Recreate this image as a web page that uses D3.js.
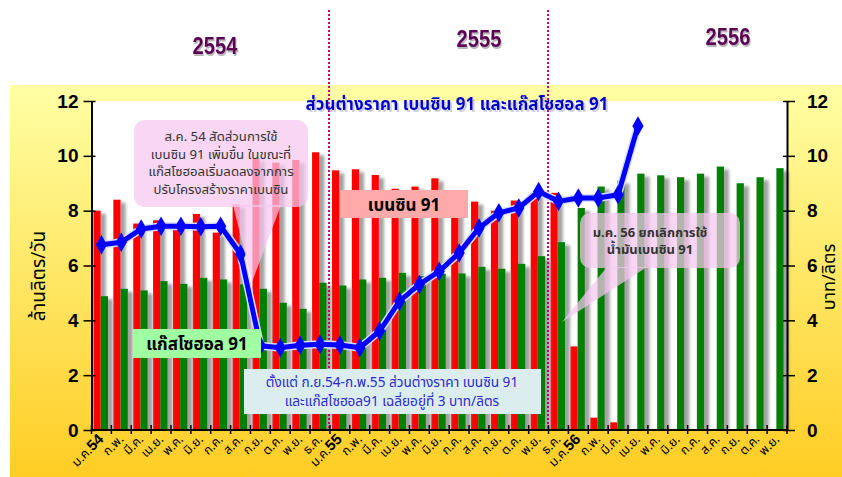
<!DOCTYPE html>
<html>
<head>
<meta charset="utf-8">
<script src="https://cdn.jsdelivr.net/npm/d3@7"></script>
<style>
    html, body { margin: 0; padding: 0; background: #fff; }
    svg { display: block; font-family: Tahoma, 'Noto Sans Thai', 'DejaVu Sans', sans-serif; }
</style>
</head>
<body>
<svg id="chart" width="842" height="477"></svg>
<script>
// monthly labels ม.ค.54 .. พ.ย.56
var monthLabels = ['ม.ค.54', 'ก.พ.', 'มี.ค.', 'เม.ย.', 'พ.ค.', 'มิ.ย.', 'ก.ค.', 'ส.ค.', 'ก.ย.', 'ต.ค.', 'พ.ย.', 'ธ.ค.',
    'ม.ค.55', 'ก.พ.', 'มี.ค.', 'เม.ย.', 'พ.ค.', 'มิ.ย.', 'ก.ค.', 'ส.ค.', 'ก.ย.', 'ต.ค.', 'พ.ย.', 'ธ.ค.',
    'ม.ค.56', 'ก.พ.', 'มี.ค.', 'เม.ย.', 'พ.ค.', 'มิ.ย.', 'ก.ค.', 'ส.ค.', 'ก.ย.', 'ต.ค.', 'พ.ย.'];

// ล้านลิตร/วัน
var benzin91 = [8.0, 8.4, 7.53, 7.65, 7.5, 7.88, 7.2, 8.22, 9.9, 9.75, 9.85, 10.13,
    9.47, 9.51, 9.3, 8.8, 8.88, 9.18, 8.7, 8.33, 8.0, 8.37, 8.65, 8.65,
    3.05, 0.45, 0.28, null, null, null, null, null, null, null, null];
var gasohol91 = [4.88, 5.15, 5.09, 5.43, 5.33, 5.55, 5.49, 5.31, 5.15, 4.64, 4.42, 5.37,
    5.27, 5.49, 5.55, 5.73, 5.61, 5.7, 5.71, 5.95, 5.88, 6.06, 6.34, 6.85,
    8.1, 8.88, 9.1, 9.35, 9.29, 9.22, 9.35, 9.61, 9.0, 9.22, 9.55];

// บาท/ลิตร
var priceGap = [6.76, 6.85, 7.33, 7.43, 7.43, 7.41, 7.43, 6.42, 3.07, 3.0, 3.09, 3.13,
    3.1, 3.0, 3.61, 4.7, 5.31, 5.79, 6.46, 7.37, 7.92, 8.1, 8.7, 8.34,
    8.46, 8.46, 8.58, 11.09];

var yTicks = [0, 2, 4, 6, 8, 10, 12];
var yearLabels = ['2554', '2555', '2556'];

(function (d3) {
    'use strict';

    var svg = d3.select('#chart'),
        defs = svg.append('defs'),
        left = 91.5,
        right = 787,
        top = 101,
        bottom = 430,
        x = d3.scaleBand().domain(d3.range(monthLabels.length)).range([left, right]).padding(0),
        bw = x.bandwidth(),
        sub = d3.scaleBand().domain(['benzin', 'gasohol']).range([bw * 0.1, bw * 0.83]).padding(0),
        y = d3.scaleLinear().domain([0, 12]).range([bottom, top]),
        grad,
        barG,
        axisL,
        axisR,
        xAxisG,
        line;

    function dropShadow(id, dx, dy, blur, color, opacity) {
        var f = defs.append('filter').attr('id', id)
                .attr('x', '-50%').attr('y', '-20%').attr('width', '250%').attr('height', '150%'),
            m;
        f.append('feGaussianBlur').attr('in', 'SourceAlpha').attr('stdDeviation', blur);
        f.append('feOffset').attr('dx', dx).attr('dy', dy).attr('result', 'ob');
        f.append('feFlood').attr('flood-color', color).attr('flood-opacity', opacity);
        f.append('feComposite').attr('in2', 'ob').attr('operator', 'in');
        m = f.append('feMerge');
        m.append('feMergeNode');
        m.append('feMergeNode').attr('in', 'SourceGraphic');
    }

    grad = defs.append('linearGradient').attr('id', 'panelGrad')
        .attr('x1', 0).attr('y1', 0).attr('x2', 0).attr('y2', 1);
    grad.append('stop').attr('offset', '0%').attr('stop-color', '#ffffa4');
    grad.append('stop').attr('offset', '100%').attr('stop-color', '#ffcd24');

    dropShadow('barShadow', 5, 3, 1.8, '#8a8a8a', 0.8);
    dropShadow('yearShadow', 1.5, 2, 0.6, '#6a5a68', 0.45);
    dropShadow('titleShadow', 1.5, 1.5, 0.5, '#8888aa', 0.4);

    defs.append('clipPath').attr('id', 'plotClip')
        .append('rect').attr('x', left).attr('y', top).attr('width', right - left + 8).attr('height', bottom - top);

    // background panel + plot area
    svg.append('rect').attr('x', 10).attr('y', 85).attr('width', 832).attr('height', 392).attr('fill', 'url(#panelGrad)');
    svg.append('rect').attr('x', left).attr('y', top).attr('width', right - left).attr('height', bottom - top).attr('fill', '#fff');

    // bars
    barG = svg.append('g').attr('clip-path', 'url(#plotClip)');
    barG.selectAll('rect.benzin')
        .data(benzin91.map(function (v, i) { return {i: i, v: v}; }).filter(function (d) { return d.v !== null; }))
        .join('rect')
        .attr('class', 'benzin')
        .attr('x', function (d) { return x(d.i) + sub('benzin'); })
        .attr('width', sub.bandwidth())
        .attr('y', function (d) { return y(d.v); })
        .attr('height', function (d) { return y(0) - y(d.v); })
        .attr('fill', '#ff0000')
        .attr('filter', 'url(#barShadow)');
    barG.selectAll('rect.gasohol')
        .data(gasohol91.map(function (v, i) { return {i: i, v: v}; }))
        .join('rect')
        .attr('class', 'gasohol')
        .attr('x', function (d) { return x(d.i) + sub('gasohol'); })
        .attr('width', sub.bandwidth())
        .attr('y', function (d) { return y(d.v); })
        .attr('height', function (d) { return y(0) - y(d.v); })
        .attr('fill', '#008000')
        .attr('filter', 'url(#barShadow)');

    // year dividers
    [x(12) - 1, x(23) - 0.5].forEach(function (px) {
        svg.append('line').attr('x1', px).attr('x2', px).attr('y1', 10).attr('y2', bottom)
            .attr('stroke', '#c8006a').attr('stroke-width', 2).attr('stroke-dasharray', '2,2');
    });

    // year labels
    [[215, 54], [479, 47], [728, 45]].forEach(function (p, k) {
        svg.append('text')
            .attr('transform', 'translate(' + p[0] + ',' + p[1] + ') scale(0.84,1)')
            .attr('text-anchor', 'middle')
            .attr('font-family', "'Liberation Sans', Arial, sans-serif")
            .attr('font-weight', 'bold').attr('font-size', 24).attr('fill', '#5c0057')
            .attr('filter', 'url(#yearShadow)')
            .text(yearLabels[k]);
    });

    // axes
    axisL = svg.append('g').attr('transform', 'translate(' + left + ',0)')
        .call(d3.axisLeft(y).tickValues(yTicks).tickSize(8).tickSizeOuter(0).tickPadding(5));
    axisR = svg.append('g').attr('transform', 'translate(' + right + ',0)')
        .call(d3.axisRight(y).tickValues(yTicks).tickSize(8).tickSizeOuter(0).tickPadding(12));
    [axisL, axisR].forEach(function (g) {
        g.select('.domain').attr('stroke', '#000').attr('stroke-width', 2);
        g.selectAll('.tick line').attr('stroke', '#000').attr('stroke-width', 1.5);
        g.selectAll('.tick text').attr('font-family', "'Liberation Sans', Arial, sans-serif")
            .attr('font-weight', 'bold').attr('font-size', 19).attr('fill', '#000');
    });
    axisL.selectAll('.tick line').attr('x1', 4);
    axisR.selectAll('.tick line').attr('x1', -4);

    xAxisG = svg.append('g');
    xAxisG.append('line').attr('x1', left).attr('x2', right).attr('y1', bottom).attr('y2', bottom)
        .attr('stroke', '#000').attr('stroke-width', 2);
    xAxisG.selectAll('line.tk')
        .data(d3.range(monthLabels.length + 1))
        .join('line')
        .attr('class', 'tk')
        .attr('x1', function (i) { return left + i * x.step(); })
        .attr('x2', function (i) { return left + i * x.step(); })
        .attr('y1', bottom - 5).attr('y2', bottom + 4)
        .attr('stroke', '#000').attr('stroke-width', 1.5);
    xAxisG.selectAll('text.lbl')
        .data(monthLabels)
        .join('text')
        .attr('class', 'lbl')
        .attr('text-anchor', 'end')
        .attr('font-size', 12.5)
        .attr('fill', '#000')
        .attr('transform', function (d, i) {
            return 'translate(' + (x(i) + bw / 2 + 3) + ',' + (bottom + 10) + ') rotate(-45)';
        })
        .each(function (d) {
            var m = d.match(/^(.*?)(\d+)$/),
                t = d3.select(this);
            if (m) {
                t.append('tspan').text(m[1]);
                t.append('tspan').attr('font-size', 15).attr('font-weight', 'bold')
                    .attr('font-family', "'Liberation Sans', Arial, sans-serif").text(m[2]);
            } else {
                t.text(d);
            }
        });

    // axis titles
    svg.append('text').attr('transform', 'translate(45,276) rotate(-90)').attr('text-anchor', 'middle')
        .attr('font-size', 19).attr('fill', '#000').text('ล้านลิตร/วัน');
    svg.append('text').attr('transform', 'translate(835,277) rotate(-90)').attr('text-anchor', 'middle')
        .attr('font-size', 18).attr('fill', '#000').text('บาท/ลิตร');

    // chart title
    svg.append('text').attr('x', 457).attr('y', 110).attr('text-anchor', 'middle')
        .attr('font-size', 17).attr('font-weight', 'bold').attr('fill', '#0000cc')
        .attr('filter', 'url(#titleShadow)')
        .text('ส่วนต่างราคา เบนซิน 91 และแก๊สโซฮอล 91');

    // price gap line
    line = d3.line()
        .x(function (d, i) { return x(i) + bw / 2; })
        .y(function (d) { return y(d); });
    svg.append('path').datum(priceGap).attr('d', line)
        .attr('fill', 'none').attr('stroke', '#d8ddff').attr('stroke-width', 8).attr('stroke-linejoin', 'round');
    svg.append('path').datum(priceGap).attr('d', line)
        .attr('fill', 'none').attr('stroke', '#0000ff').attr('stroke-width', 5).attr('stroke-linejoin', 'round');
    svg.selectAll('path.mark')
        .data(priceGap)
        .join('path')
        .attr('class', 'mark')
        .attr('transform', function (d, i) { return 'translate(' + (x(i) + bw / 2) + ',' + y(d) + ')'; })
        .attr('d', d3.symbol().type(d3.symbolDiamond).size(110))
        .attr('fill', '#0000ff');

    // annotations
    function noteBox(bx, by, w, h, fill, opacity, rx) {
        svg.append('rect').attr('x', bx).attr('y', by).attr('width', w).attr('height', h)
            .attr('rx', rx).attr('fill', fill).attr('fill-opacity', opacity);
    }
    // one text element per note, one tspan per line
    function noteLines(cx, by, step, lines, size, weight, color) {
        var t = svg.append('text').attr('x', cx).attr('y', by).attr('text-anchor', 'middle')
            .attr('font-size', size).attr('font-weight', weight).attr('fill', color);
        lines.forEach(function (s, k) {
            t.append('tspan').attr('x', cx).attr('dy', k === 0 ? 0 : step).text(s);
        });
    }

    svg.append('path').attr('d', 'M233,205 L281,205 L252,282 Z').attr('fill', '#f7c8f0').attr('fill-opacity', 0.72);
    noteBox(134, 120, 174, 87, '#f7c8f0', 0.72, 11);
    noteLines(221, 141, 17.6, ['ส.ค. 54 สัดส่วนการใช้', 'เบนซิน 91 เพิ่มขึ้น ในขณะที่',
        'แก๊สโซฮอลเริ่มลดลงจากการ', 'ปรับโครงสร้างราคาเบนซิน'], 13.2, 'normal', '#333');

    svg.append('path').attr('d', 'M607,267 L647,267 L562,322 Z').attr('fill', '#f7c8f0').attr('fill-opacity', 0.72);
    noteBox(580, 213, 160, 55, '#f7c8f0', 0.72, 10);
    noteLines(650, 237, 16.5, ['ม.ค. 56 ยกเลิกการใช้', 'น้ำมันเบนซิน 91'], 13, 'bold', '#333');

    noteBox(340, 190, 128, 28, '#ffaaaa', 1, 0);
    noteLines(404, 211, 0, ['เบนซิน 91'], 17, 'bold', '#000');

    noteBox(133, 329, 128, 29, '#a0ffa0', 1, 0);
    noteLines(197, 350, 0, ['แก๊สโซฮอล 91'], 17, 'bold', '#000');

    noteBox(244, 369, 297, 45, '#dcedf0', 1, 0);
    noteLines(392, 387, 18.5, ['ตั้งแต่ ก.ย.54-ก.พ.55 ส่วนต่างราคา เบนซิน 91',
        'และแก๊สโซฮอล91 เฉลี่ยอยู่ที่ 3 บาท/ลิตร'], 13.6, 'normal', '#2a2acc');
}(window.d3));
</script>
</body>
</html>
